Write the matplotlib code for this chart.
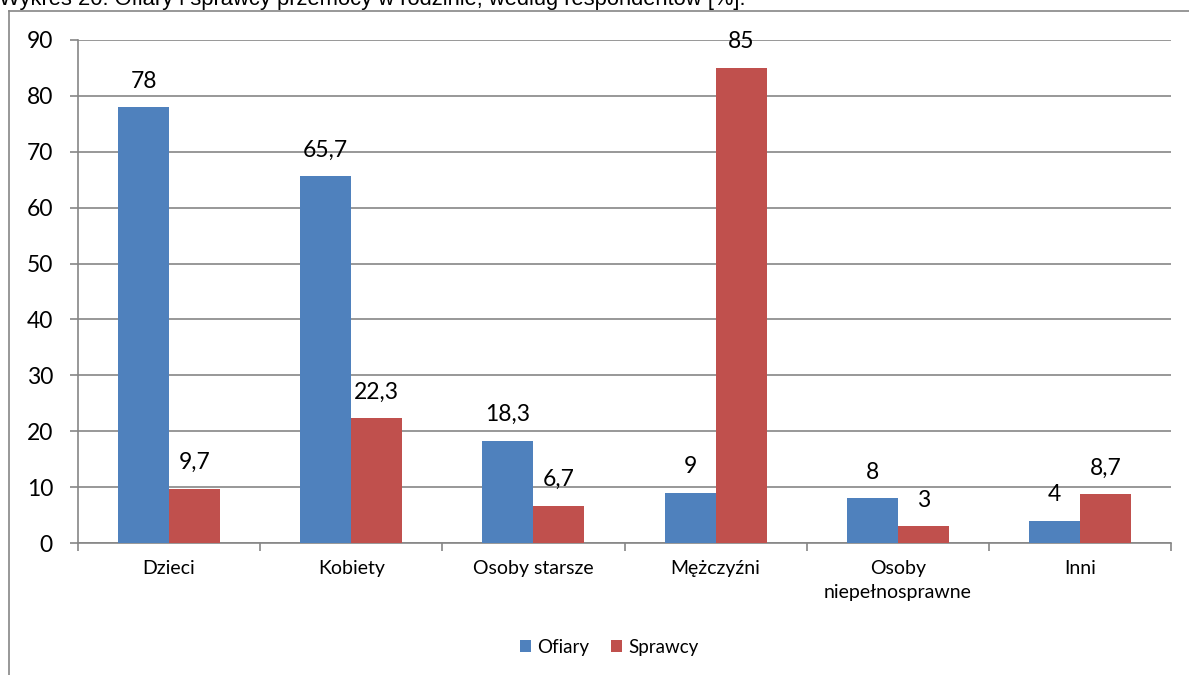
import matplotlib
matplotlib.use("Agg")
import matplotlib.pyplot as plt
from matplotlib.lines import Line2D
import numpy as np

categories = ["Dzieci", "Kobiety", "Osoby starsze", "Mężczyźni", "Osoby\nniepełnosprawne", "Inni"]
ofiary = [78, 65.7, 18.3, 9, 8, 4]
sprawcy = [9.7, 22.3, 6.7, 85, 3, 8.7]
series_names = ["Ofiary", "Sprawcy"]
yticks = [0, 10, 20, 30, 40, 50, 60, 70, 80, 90]
title = "Wykres 20. Ofiary i sprawcy przemocy w rodzinie, według respondentów [%]."

BLUE = "#4F81BD"
RED = "#C0504D"
GRID = "#868686"
FONT = ["Lato", "DejaVu Sans"]

plt.rcParams["font.family"] = FONT

fig = plt.figure(figsize=(11.89, 6.75), dpi=100)
ax = fig.add_axes([78 / 1189, 1 - 543 / 675, (1171 - 78) / 1189, (543 - 40) / 675])

x = np.arange(len(categories))
w = 0.28
b1 = ax.bar(x - w / 2, ofiary, w, color=BLUE, label=series_names[0], zorder=3)
b2 = ax.bar(x + w / 2, sprawcy, w, color=RED, label=series_names[1], zorder=3)

def fmt(v):
    s = f"{v:g}"
    return s.replace(".", ",")

for bars, vals in ((b1, ofiary), (b2, sprawcy)):
    for r, v in zip(bars, vals):
        ax.annotate(fmt(v), (r.get_x() + r.get_width() / 2, v), xytext=(0, 14),
                    textcoords="offset points", ha="center", va="baseline",
                    fontsize=16.5, color="black")

ax.set_xlim(-0.5, len(categories) - 0.5)
ax.set_ylim(0, 90)
ax.set_yticks(yticks)
ax.set_yticklabels([str(t) for t in yticks], fontsize=16.5)
ax.yaxis.grid(True, color=GRID, linewidth=1.2, zorder=0)
ax.set_axisbelow(True)

ax.set_xticks(np.arange(len(categories) + 1) - 0.5)
ax.set_xticklabels([])
ax.set_xticks(x, minor=True)
ax.set_xticklabels(categories, minor=True, fontsize=14, linespacing=1.55)
ax.tick_params(axis="x", which="minor", length=0, pad=12)
ax.tick_params(axis="x", which="major", length=6, color=GRID, width=1.2)
ax.tick_params(axis="y", length=6, color=GRID, width=1.2, pad=12)

for s in ("top", "right"):
    ax.spines[s].set_visible(False)
for s in ("left", "bottom"):
    ax.spines[s].set_color(GRID)
    ax.spines[s].set_linewidth(1.2)

leg = fig.legend(handles=[b1, b2], labels=series_names, loc="center",
                 bbox_to_anchor=(609 / 1189, 1 - 647 / 675), ncol=2, frameon=False,
                 fontsize=13.5, handlelength=0.6, handleheight=0.6,
                 handletextpad=0.3, columnspacing=1.2)

# outer chart frame (left and top edges visible)
fig.add_artist(Line2D([8.5 / 1189, 8.5 / 1189], [0, 1 - 10.5 / 675], transform=fig.transFigure,
                      color=GRID, linewidth=1.2))
fig.add_artist(Line2D([8.5 / 1189, 1], [1 - 10.5 / 675, 1 - 10.5 / 675], transform=fig.transFigure,
                      color=GRID, linewidth=1.2))

fig.text(-0.001, 1 - 4.5 / 675, title, ha="left", va="baseline", fontsize=15.8,
         family=["Liberation Sans", "DejaVu Sans"], color="black")

fig.savefig("out.png", dpi=100)
